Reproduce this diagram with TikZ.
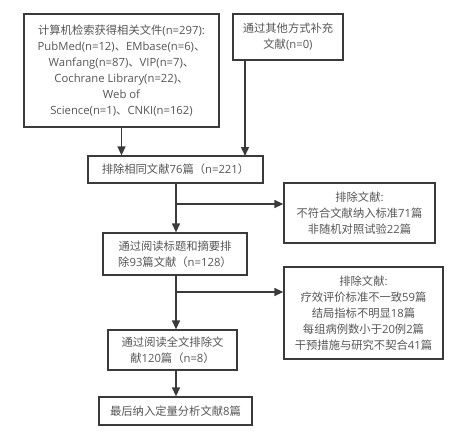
\documentclass[tikz,border=0pt]{standalone}
\usepackage{fontspec}
\setmainfont{Open Sans}
\newfontfamily\cjk{Noto Sans CJK SC}
\newcommand{\zh}[1]{{\cjk #1}}
\usetikzlibrary{arrows.meta}
\definecolor{txt}{HTML}{555555}
\definecolor{ln}{HTML}{3A3A3A}
\begin{document}
\begin{tikzpicture}[x=1pt,y=-1pt,
  box/.style={draw=ln,line width=1.3pt,text=txt,align=center,inner sep=0pt,
    font=\fontsize{11.3}{16}\selectfont},
  arr/.style={draw=ln,line width=1.3pt,-{Triangle[length=9pt,width=8pt]}},
  ln2/.style={draw=ln,line width=1.3pt}]
\useasboundingbox (0,0) rectangle (464,432);
\node[box,minimum width=195pt,minimum height=113pt] (b1) at (121.5,70.5)
 {\zh{计算机检索获得相关文件}(n=297):\\PubMed(n=12)\zh{、}EMbase(n=6)\zh{、}\\Wanfang(n=87)\zh{、}VIP(n=7)\zh{、}\\Cochrane Library(n=22)\zh{、}\\Web of\\Science(n=1)\zh{、}CNKI(n=162)};
\node[box,minimum width=110pt,minimum height=46pt] (b2) at (288,37)
 {\zh{通过其他方式补充}\\\zh{文献}(n=0)};
\node[box,minimum width=175pt,minimum height=27pt] (b3) at (175.5,169.5)
 {\zh{排除相同文献}76\zh{篇（}n=221\zh{）}};
\node[box,minimum width=151pt,minimum height=60pt] (e1) at (359.5,213)
 {\zh{排除文献}:\\\zh{不符合文献纳入标准}71\zh{篇}\\\zh{非随机对照试验}22\zh{篇}};
\node[box,minimum width=144pt,minimum height=42pt] (b4) at (175,254)
 {\zh{通过阅读标题和摘要排}\\\zh{除}93\zh{篇文献（}n=128\zh{）}};
\node[box,minimum width=159pt,minimum height=92pt] (e2) at (363.5,313)
 {\zh{排除文献}:\\\zh{疗效评价标准不一致}59\zh{篇}\\\zh{结局指标不明显}18\zh{篇}\\\zh{每组病例数小于}20\zh{例}2\zh{篇}\\\zh{干预措施与研究不契合}41\zh{篇}};
\node[box,minimum width=129pt,minimum height=40pt] (b5) at (172.5,350)
 {\zh{通过阅读全文排除文}\\\zh{献}120\zh{篇（}n=8\zh{）}};
\node[box,minimum width=153pt,minimum height=28pt] (b6) at (175.5,411)
 {\zh{最后纳入定量分析文献}8\zh{篇}};
\draw[arr] (b1.south) -- (b1.south |- b3.north);
\draw[arr] (b2.south -| 245,0) -- (245,156);
\coordinate (j1) at (176,204);
\coordinate (j2) at (176,292);
\draw[ln2] (b3.south -| j1) -- (j1);
\draw[arr] (j1) -- (j1 |- b4.north);
\draw[arr] (j1) -- (j1 -| e1.west);
\draw[ln2] (b4.south -| j2) -- (j2);
\draw[arr] (j2) -- (j2 |- b5.north);
\draw[arr] (j2) -- (j2 -| e2.west);
\draw[arr] (b5.south -| j2) -- (j2 |- b6.north);
\end{tikzpicture}
\end{document}
